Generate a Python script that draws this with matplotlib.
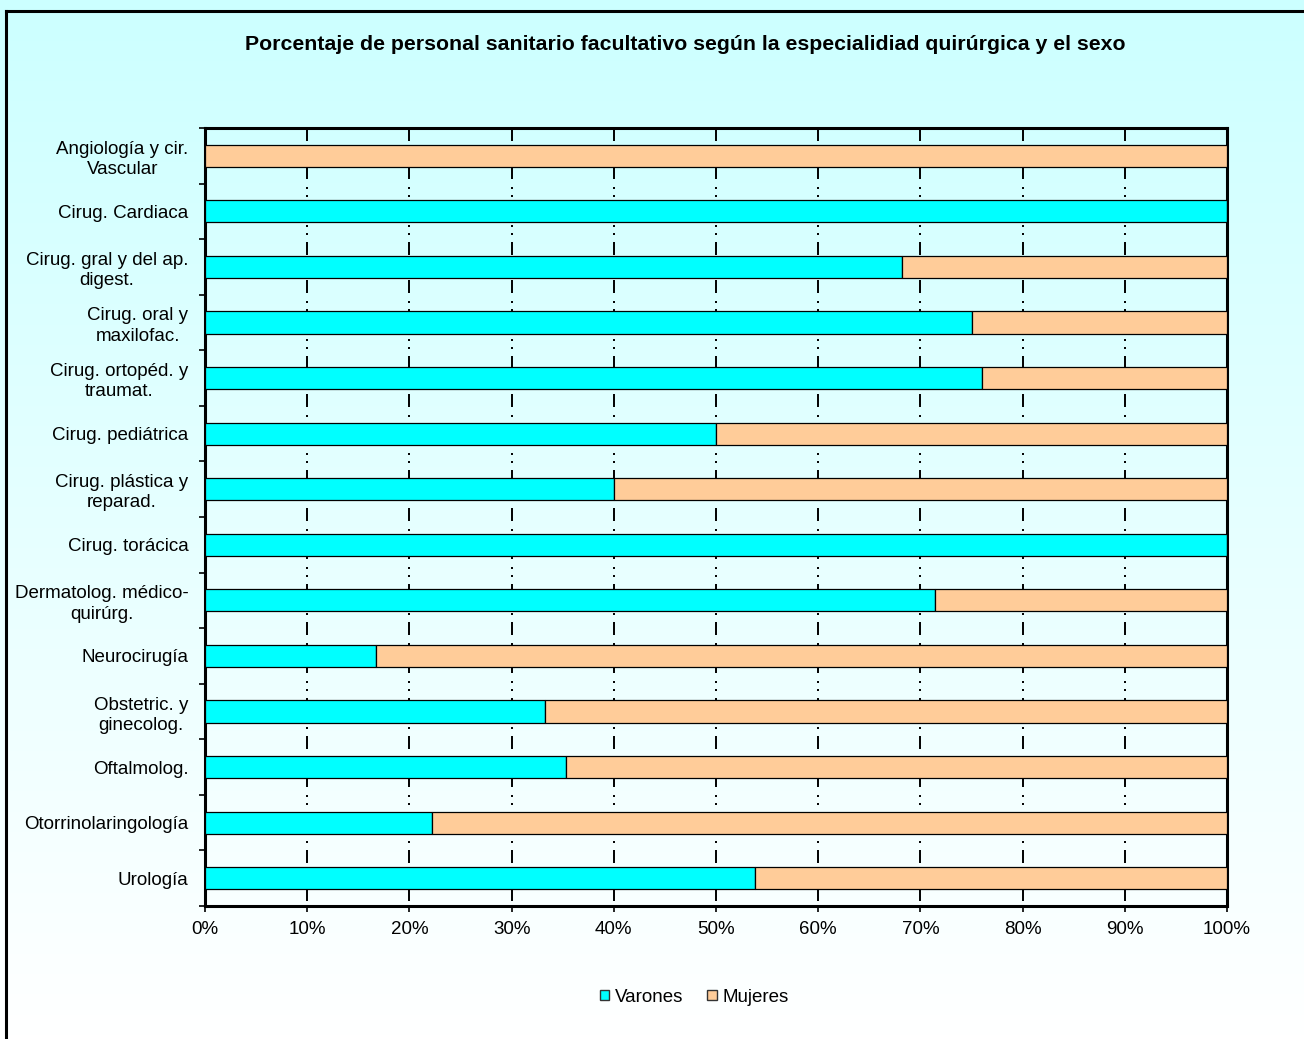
import numpy as np
import matplotlib
matplotlib.use("Agg")
import matplotlib.pyplot as plt
from matplotlib.patches import Patch
from matplotlib.lines import Line2D

plt.rcParams["font.family"] = ["Liberation Sans", "DejaVu Sans"]
plt.rcParams["lines.scale_dashes"] = False

especialidades = [
    "Angiología y cir.\nVascular",
    "Cirug. Cardiaca",
    "Cirug. gral y del ap.\ndigest.",
    "Cirug. oral y\nmaxilofac.",
    "Cirug. ortopéd. y\ntraumat.",
    "Cirug. pediátrica",
    "Cirug. plástica y\nreparad.",
    "Cirug. torácica",
    "Dermatolog. médico-\nquirúrg.",
    "Neurocirugía",
    "Obstetric. y\nginecolog.",
    "Oftalmolog.",
    "Otorrinolaringología",
    "Urología",
]
varones = [0.0, 100.0, 68.2, 75.0, 76.0, 50.0, 40.0, 100.0, 71.4, 16.7, 33.3, 35.3, 22.2, 53.8]
mujeres = [100 - v for v in varones]
x_ticks = list(range(0, 101, 10))
x_labels = [f"{t}%" for t in x_ticks]

W, H = 1304, 1039
fig = plt.figure(figsize=(W / 100, H / 100), dpi=100)

# fondo degradado (cian claro arriba -> blanco abajo)
bg = fig.add_axes([0, 0, 1, 1], zorder=-10)
grad = np.linspace(0, 1, 256).reshape(-1, 1)
top = np.array([0.80, 1.0, 1.0])
bot = np.array([1.0, 1.0, 1.0])
img = top + (bot - top) * grad[..., None]
bg.imshow(img, aspect="auto", extent=[0, 1, 0, 1])
bg.set_xlim(0, 1)
bg.set_ylim(0, 1)
bg.axis("off")
# borde exterior: solo izquierda y arriba visibles
x0, y0 = 5.5 / W, 1 - 10.5 / H
bg.add_line(Line2D([x0, x0], [0, y0], color="black", lw=2.2))
bg.add_line(Line2D([x0, 1], [y0, y0], color="black", lw=2.2))

ax = fig.add_axes([205 / W, 1 - 906 / H, (1227 - 205) / W, (906 - 128) / H])
ax.set_facecolor("none")

y = np.arange(len(especialidades))
ax.barh(y, varones, height=0.4, color="#00FFFF", edgecolor="black", linewidth=0.9, zorder=3, label="Varones")
ax.barh(y, mujeres, left=varones, height=0.4, color="#FFCC99", edgecolor="black", linewidth=0.9, zorder=3, label="Mujeres")

ax.set_xlim(0, 100)
ax.set_ylim(len(especialidades) - 0.5, -0.5)

# rejilla vertical raya-punto-punto, dibujada desde arriba
dash = (0, (9.36, 5.76, 1.44, 4.32, 1.44, 5.04))
for t in x_ticks[1:-1]:
    ax.plot([t, t], [-0.5, len(especialidades) - 0.5], color="black", lw=1.4, linestyle=dash, zorder=1)

ax.set_xticks(x_ticks)
ax.set_xticklabels(x_labels, fontsize=13.5)
ax.tick_params(axis="x", direction="out", length=4, width=1.2, pad=7)

ax.set_yticks(y)
ax.set_yticklabels(especialidades, fontsize=13.5, multialignment="center", linespacing=1.25)
ax.tick_params(axis="y", which="major", length=0, pad=12)
ax.set_yticks(np.arange(-0.5, len(especialidades)), minor=True)
ax.tick_params(axis="y", which="minor", direction="out", length=4.5, width=1.2)

for s in ax.spines.values():
    s.set_linewidth(2.2)
    s.set_color("black")

fig.text(685 / W, 1 - 45 / H, "Porcentaje de personal sanitario facultativo según la especialidiad quirúrgica y el sexo",
         ha="center", va="center", fontsize=15.3, fontweight="bold")

handles = [Patch(facecolor="#00FFFF", edgecolor="#333333", label="Varones"),
           Patch(facecolor="#FFCC99", edgecolor="#333333", label="Mujeres")]
fig.legend(handles=handles, loc="center", bbox_to_anchor=(694 / W, 1 - 997 / H), ncol=2, frameon=False,
           fontsize=13.5, handlelength=0.5, handleheight=0.5, handletextpad=0.3, columnspacing=1.3)

fig.savefig("out.png", dpi=100)
